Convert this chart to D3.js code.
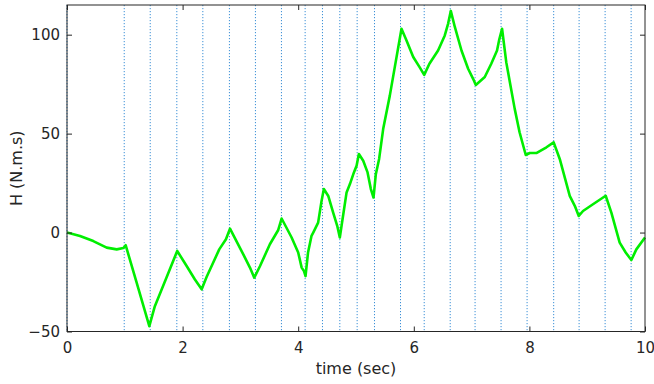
<!DOCTYPE html>
<html>
<head>
<meta charset="utf-8">
<script src="https://cdn.jsdelivr.net/npm/d3@7"></script>
<style>
  body { margin: 0; background: #fff; }
  svg { display: block; }
  text { font-family: "DejaVu Sans", sans-serif; fill: #262626; }
</style>
</head>
<body>
<figure id="chart" style="margin:0"></figure>
<script>
// time samples (sec) and angular momentum H (N.m.s)
const times = [0, 0.225, 0.455, 0.686, 0.86, 0.975, 1.015, 1.205, 1.424, 1.52, 1.72, 1.907,
  2.07, 2.213, 2.33, 2.415, 2.634, 2.75, 2.82, 3.05, 3.165, 3.24, 3.34, 3.51, 3.655, 3.713,
  3.886, 4.0, 4.06, 4.1, 4.127, 4.17, 4.23, 4.26, 4.345, 4.404, 4.444, 4.52, 4.605, 4.675, 4.72,
  4.767, 4.837, 4.895, 4.964, 5.01, 5.05, 5.125, 5.2, 5.257, 5.303, 5.343, 5.4, 5.47, 5.585,
  5.787, 5.874, 5.99, 6.1, 6.18, 6.27, 6.42, 6.536, 6.594, 6.64, 6.71, 6.825, 6.94, 7.026,
  7.073, 7.228, 7.34, 7.44, 7.475, 7.527, 7.6, 7.746, 7.83, 7.937, 8.006, 8.12, 8.295, 8.42,
  8.525, 8.698, 8.785, 8.854, 8.928, 9.1, 9.32, 9.418, 9.562, 9.666, 9.764, 9.85, 10];
const momentum = [0, -1.7, -4.3, -7.6, -8.5, -7.8, -6.4, -25.3, -47.3, -37.2, -22.8, -9.3,
  -16.9, -23.7, -28.7, -22.5, -8.5, -3.4, 2, -11, -17.7, -22.8, -16.9, -5.9, 1.3, 7.1,
  -2.5, -10.1, -17.7, -19.5, -22, -10.1, -1.7, 0, 5, 16, 22, 18.5, 10.1, 3.4, -2.5,
  6.7, 20.3, 24.5, 30.4, 33.8, 39.7, 36.3, 30.4, 22, 17.7, 29.5, 37.2, 52.3, 69.2,
  103, 97.1, 88.7, 83.6, 79.7, 85.3, 92, 99.6, 105.6, 112, 103.9, 92, 82.8, 77.7,
  74.6, 78.6, 85.3, 92, 97.1, 103, 86, 62.5, 50.7, 39.2, 40.2, 40.2, 43.1, 45.6,
  37.2, 18.5, 13.5, 8.4, 10.9, 14.3, 18.6, 10.1, -5.1, -10.1, -13.9, -8.5, -2.5];

// event markers (dotted vertical lines)
const events = [0, 0.99, 1.44, 1.9, 2.35, 2.81, 3.26, 3.71, 4.12, 4.42, 4.72, 5.02, 5.32,
  5.77, 6.18, 6.63, 7.06, 7.51, 7.96, 8.42, 8.86, 9.31, 9.76];

const xTicks = [0, 2, 4, 6, 8, 10];
const yTicks = [-50, 0, 50, 100];

const W = 654, H = 384;
const margin = { top: 5, right: 9, bottom: 52.5, left: 67 };
const width = W - margin.left - margin.right;
const height = H - margin.top - margin.bottom;

const svg = d3.select("figure#chart")
  .append("svg")
  .attr("width", W)
  .attr("height", H);

const g = svg.append("g")
  .attr("transform", "translate(" + margin.left + "," + margin.top + ")");

const x = d3.scaleLinear().domain([0, 10]).range([0, width]);
const y = d3.scaleLinear().domain([-50, 115]).range([height, 0]);

// event lines
g.selectAll(".event")
  .data(events)
  .enter()
  .append("line")
  .attr("class", "event")
  .attr("x1", d => x(d)).attr("x2", d => x(d))
  .attr("y1", 0).attr("y2", height)
  .attr("stroke", "#3b8fd6")
  .attr("stroke-width", 1)
  .attr("stroke-dasharray", "1.2,1.8");

// the curve
const pts = times.map((t, i) => [t, momentum[i]]);
g.append("path")
  .datum(pts)
  .attr("fill", "none")
  .attr("stroke", "#00ee00")
  .attr("stroke-width", 2.6)
  .attr("stroke-linejoin", "round")
  .attr("d", d3.line().x(d => x(d[0])).y(d => y(d[1])));

// axes, ticks pointing inward
const styleAxis = sel => {
  sel.select(".domain").remove();
  sel.selectAll(".tick line").attr("stroke", "#262626").attr("stroke-width", 1);
  sel.selectAll(".tick text").style("font-size", "15px").attr("fill", "#262626");
};

g.append("g")
  .attr("transform", "translate(0," + height + ")")
  .call(d3.axisBottom(x).tickValues(xTicks).tickSize(-5).tickPadding(11).tickFormat(d3.format("d")))
  .call(styleAxis);

g.append("g")
  .call(d3.axisLeft(y).tickValues(yTicks).tickSize(-5).tickPadding(7).tickFormat(d3.format("d")))
  .call(styleAxis);

g.append("g")
  .call(d3.axisTop(x).tickValues(xTicks).tickSize(-5).tickFormat(""))
  .call(styleAxis);

g.append("g")
  .attr("transform", "translate(" + width + ",0)")
  .call(d3.axisRight(y).tickValues(yTicks).tickSize(-5).tickFormat(""))
  .call(styleAxis);

// frame
g.append("rect")
  .attr("x", 0).attr("y", 0)
  .attr("width", width).attr("height", height)
  .attr("fill", "none")
  .attr("stroke", "#262626")
  .attr("stroke-width", 1);

// axis labels
svg.append("text")
  .attr("x", margin.left + width / 2)
  .attr("y", 374)
  .attr("text-anchor", "middle")
  .style("font-size", "16px")
  .text("time (sec)");

svg.append("text")
  .attr("transform", "translate(22," + (margin.top + height / 2) + ") rotate(-90)")
  .attr("text-anchor", "middle")
  .style("font-size", "16px")
  .text("H (N.m.s)");
</script>
</body>
</html>
